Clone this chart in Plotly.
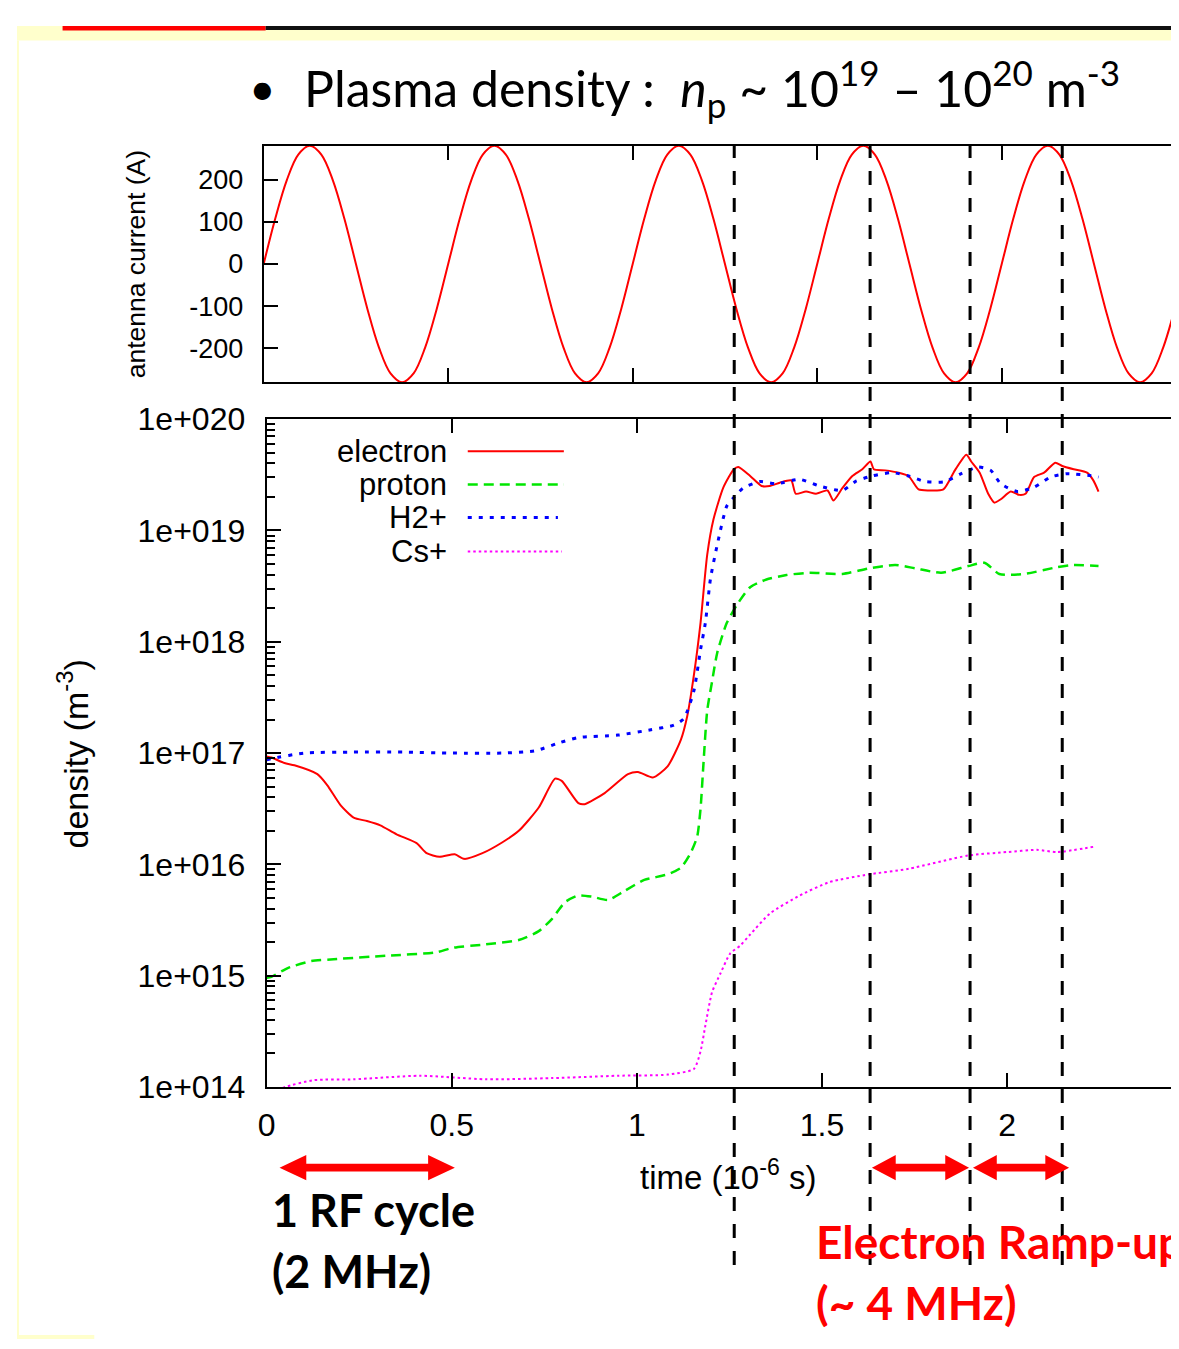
import plotly.graph_objects as go

W, H = 1179, 1349

# ---------------- data ----------------
t_current = [0.0, 0.03125, 0.0625, 0.09375, 0.125, 0.15625, 0.1875, 0.21875, 0.25, 0.28125,
             0.3125, 0.34375, 0.375, 0.40625, 0.4375, 0.46875, 0.5, 0.53125, 0.5625, 0.59375,
             0.625, 0.65625, 0.6875, 0.71875, 0.75, 0.78125, 0.8125, 0.84375, 0.875, 0.90625,
             0.9375, 0.96875, 1.0, 1.03125, 1.0625, 1.09375, 1.125, 1.15625, 1.1875, 1.21875,
             1.25, 1.28125, 1.3125, 1.34375, 1.375, 1.40625, 1.4375, 1.46875, 1.5, 1.53125,
             1.5625, 1.59375, 1.625, 1.65625, 1.6875, 1.71875, 1.75, 1.78125, 1.8125, 1.84375,
             1.875, 1.90625, 1.9375, 1.96875, 2.0, 2.03125, 2.0625, 2.09375, 2.125, 2.15625,
             2.1875, 2.21875, 2.25, 2.28125, 2.3125, 2.34375, 2.375, 2.40625, 2.4375, 2.46875, 2.5]
current = [0, 107, 198, 259, 280, 259, 198, 107, 0, -107,
           -198, -259, -280, -259, -198, -107, 0, 107, 198, 259,
           280, 259, 198, 107, 0, -107, -198, -259, -280, -259,
           -198, -107, 0, 107, 198, 259, 280, 259, 198, 107,
           0, -107, -198, -259, -280, -259, -198, -107, 0, 107,
           198, 259, 280, 259, 198, 107, 0, -107, -198, -259,
           -280, -259, -198, -107, 0, 107, 198, 259, 280, 259,
           198, 107, 0, -107, -198, -259, -280, -259, -198, -107, 0]

t_electron = [0.000, 0.013, 0.048, 0.075, 0.137, 0.164, 0.200, 0.235, 0.271, 0.307,
              0.351, 0.405, 0.432, 0.467, 0.508, 0.534, 0.583, 0.637, 0.681, 0.735,
              0.779, 0.797, 0.842, 0.859, 0.913, 0.976, 1.003, 1.043, 1.083, 1.119,
              1.136, 1.154, 1.172, 1.190, 1.207, 1.234, 1.262, 1.274, 1.306, 1.337,
              1.359, 1.386, 1.417, 1.429, 1.457, 1.484, 1.515, 1.531, 1.555, 1.582,
              1.609, 1.631, 1.640, 1.671, 1.707, 1.734, 1.761, 1.787, 1.828, 1.859,
              1.890, 1.903, 1.926, 1.949, 1.966, 1.983, 2.010, 2.033, 2.050, 2.073,
              2.100, 2.130, 2.149, 2.180, 2.216, 2.233, 2.247]
electron = [9.33e16, 9.12e16, 8.13e16, 7.76e16, 6.46e16, 5.13e16, 3.39e16, 2.63e16, 2.45e16, 2.24e16,
            1.86e16, 1.55e16, 1.26e16, 1.17e16, 1.23e16, 1.12e16, 1.26e16, 1.58e16, 2.00e16, 3.24e16,
            5.89e16, 5.62e16, 3.55e16, 3.47e16, 4.37e16, 6.46e16, 6.76e16, 6.03e16, 7.59e16, 1.32e17,
            2.14e17, 5.01e17, 1.48e18, 6.03e18, 1.26e19, 2.45e19, 3.55e19, 3.72e19, 3.09e19, 2.51e19,
            2.51e19, 2.69e19, 2.82e19, 2.14e19, 2.24e19, 2.14e19, 2.29e19, 1.86e19, 2.40e19, 3.09e19,
            3.55e19, 4.17e19, 3.55e19, 3.47e19, 3.31e19, 3.09e19, 2.34e19, 2.29e19, 2.34e19, 3.47e19,
            4.79e19, 4.17e19, 3.31e19, 2.14e19, 1.78e19, 1.91e19, 2.24e19, 2.09e19, 2.14e19, 3.02e19,
            3.31e19, 4.07e19, 3.80e19, 3.55e19, 3.31e19, 2.82e19, 2.24e19]

t_proton = [0.000, 0.013, 0.057, 0.120, 0.190, 0.324, 0.458, 0.503, 0.592, 0.681,
            0.735, 0.771, 0.806, 0.842, 0.878, 0.922, 0.966, 1.020, 1.083, 1.119,
            1.145, 1.163, 1.172, 1.180, 1.190, 1.203, 1.217, 1.243, 1.270, 1.306,
            1.350, 1.404, 1.466, 1.555, 1.627, 1.698, 1.752, 1.822, 1.895, 1.939,
            1.979, 2.046, 2.135, 2.180, 2.247]
proton = [9.55e14, 9.77e14, 1.17e15, 1.35e15, 1.41e15, 1.51e15, 1.62e15, 1.78e15, 1.91e15, 2.09e15,
          2.51e15, 3.24e15, 4.57e15, 5.25e15, 5.13e15, 4.79e15, 5.75e15, 7.24e15, 8.13e15, 9.33e15,
          1.26e16, 1.78e16, 3.16e16, 8.13e16, 2.40e17, 4.37e17, 7.94e17, 1.48e18, 2.14e18, 3.09e18,
          3.63e18, 3.98e18, 4.17e18, 4.07e18, 4.57e18, 4.90e18, 4.57e18, 4.17e18, 4.79e18, 5.13e18,
          4.07e18, 4.07e18, 4.68e18, 4.90e18, 4.79e18]

t_h2 = [0.000, 0.013, 0.102, 0.235, 0.369, 0.503, 0.637, 0.726, 0.788, 0.842,
        0.949, 1.038, 1.100, 1.127, 1.154, 1.172, 1.185, 1.199, 1.217, 1.243,
        1.260, 1.287, 1.333, 1.377, 1.440, 1.493, 1.555, 1.590, 1.635, 1.689,
        1.734, 1.779, 1.832, 1.876, 1.921, 1.956, 1.983, 2.028, 2.073, 2.117,
        2.162, 2.233, 2.247]
h2 = [8.71e16, 8.91e16, 1.00e17, 1.02e17, 1.02e17, 1.00e17, 1.00e17, 1.05e17, 1.23e17, 1.38e17,
      1.45e17, 1.62e17, 1.78e17, 2.04e17, 3.63e17, 8.51e17, 1.48e18, 3.72e18, 7.41e18, 1.66e19,
      1.95e19, 2.40e19, 2.75e19, 2.63e19, 2.88e19, 2.51e19, 2.29e19, 2.75e19, 3.09e19, 3.31e19,
      3.09e19, 2.75e19, 2.75e19, 3.24e19, 3.72e19, 3.47e19, 2.63e19, 2.24e19, 2.45e19, 3.02e19,
      3.24e19, 3.09e19, 3.02e19]

t_cs = [0.030, 0.050, 0.128, 0.235, 0.414, 0.592, 0.771, 0.949, 1.083, 1.154,
        1.172, 1.185, 1.203, 1.226, 1.252, 1.279, 1.306, 1.360, 1.440, 1.520,
        1.627, 1.734, 1.895, 2.000, 2.080, 2.135, 2.240]
cs = [9.33e13, 1.00e14, 1.15e14, 1.17e14, 1.26e14, 1.17e14, 1.20e14, 1.26e14, 1.29e14, 1.45e14,
      2.09e14, 3.55e14, 7.08e14, 1.05e15, 1.58e15, 1.86e15, 2.34e15, 3.63e15, 5.25e15, 6.92e15,
      8.13e15, 9.12e15, 1.20e16, 1.29e16, 1.35e16, 1.29e16, 1.45e16]

marker_times = [1.263, 1.630, 1.900, 2.149]

current_ticks = [-200, -100, 0, 100, 200]
current_ticktext = ["-200", "-100", "0", "100", "200"]
density_ticks = [1e14, 1e15, 1e16, 1e17, 1e18, 1e19, 1e20]
density_ticktext = ["1e+014", "1e+015", "1e+016", "1e+017", "1e+018", "1e+019", "1e+020"]
time_ticks = [0, 0.5, 1, 1.5, 2, 2.5]

series_names = ["electron", "proton", "H2+", "Cs+"]

# ---------------- style ----------------
PLOT_FONT = "Liberation Sans, Arial, Helvetica, sans-serif"
SLIDE_FONT = "Lato, Open Sans, sans-serif"
RED = "#ff0000"
GREEN = "#00e600"
BLUE = "#0000ff"
MAGENTA = "#ff00ff"

styles = {
    "electron": dict(color=RED, width=2, dash="solid"),
    "proton": dict(color=GREEN, width=2.5, dash="10px,6px"),
    "H2+": dict(color=BLUE, width=3, dash="4px,7px"),
    "Cs+": dict(color=MAGENTA, width=2, dash="2.5px,3px"),
}


def px(x):
    return x / W


def py(y):
    return 1 - y / H


fig = go.Figure()

fig.add_trace(go.Scatter(x=t_current, y=current, mode="lines", line=dict(color=RED, width=2),
                         line_shape="spline", xaxis="x", yaxis="y", showlegend=False))

series = [(t_electron, electron), (t_proton, proton), (t_h2, h2), (t_cs, cs)]
for name, (tt, vv) in zip(series_names, series):
    fig.add_trace(go.Scatter(x=tt, y=vv, mode="lines", name=name, line=styles[name],
                             line_shape="spline", line_smoothing=0.6,
                             xaxis="x2", yaxis="y2", showlegend=False))

axis_common = dict(showline=True, linecolor="black", linewidth=2, mirror="ticks",
                   ticks="inside", ticklen=14, tickwidth=2, tickcolor="black",
                   showgrid=False, zeroline=False,
                   tickfont=dict(family=PLOT_FONT, size=27, color="black"))

top_x_end = (W - 249) / 372.5
bot_x_end = (W - 252) / 373.7

minor_vals = [float(k) * 10.0 ** d for d in range(14, 20) for k in range(2, 10)]

fig.update_layout(
    width=W, height=H, autosize=False,
    margin=dict(l=0, r=0, t=0, b=0),
    paper_bgcolor="white", plot_bgcolor="white",
    xaxis=dict(axis_common, domain=[px(249), 1], range=[0, top_x_end], anchor="y",
               tickvals=time_ticks, showticklabels=False),
    yaxis=dict(axis_common, domain=[py(366), py(123)], range=[-280, 280], anchor="x",
               tickvals=current_ticks, ticktext=current_ticktext, ticklabelstandoff=13),
    xaxis2=dict(axis_common, domain=[px(252), 1], range=[0, bot_x_end], anchor="y2",
                tickvals=time_ticks, ticklabelstandoff=9,
                tickfont=dict(family=PLOT_FONT, size=32, color="black")),
    yaxis2=dict(axis_common, domain=[py(1090), py(404)], type="log", range=[14, 20], anchor="x2",
                tickvals=density_ticks, ticktext=density_ticktext, ticklabelstandoff=13,
                tickfont=dict(family=PLOT_FONT, size=32, color="black"),
                minor=dict(ticks="inside", ticklen=8, tickwidth=1.5, tickcolor="black",
                           tickvals=minor_vals)),
)

shapes = []
# slide decoration
shapes.append(dict(type="rect", xref="paper", yref="paper", x0=0, x1=1, y0=py(15), y1=1,
                   fillcolor="#ffffcc", line=dict(width=0), layer="below"))
shapes.append(dict(type="rect", xref="paper", yref="paper", x0=0, x1=px(2), y0=0, y1=py(15),
                   fillcolor="#ffffcc", line=dict(width=0), layer="below"))
shapes.append(dict(type="rect", xref="paper", yref="paper", x0=0, x1=px(78), y0=0, y1=py(1345),
                   fillcolor="#ffffcc", line=dict(width=0), layer="below"))
shapes.append(dict(type="rect", xref="paper", yref="paper", x0=px(46), x1=px(251), y0=py(4.5), y1=1,
                   fillcolor=RED, line=dict(width=0), layer="above"))
shapes.append(dict(type="rect", xref="paper", yref="paper", x0=px(251), x1=1, y0=py(4), y1=1,
                   fillcolor="#111111", line=dict(width=0), layer="above"))

# vertical dashed markers
for tm in marker_times:
    shapes.append(dict(type="line", xref="x2", yref="paper", x0=tm, x1=tm,
                       y0=py(1273), y1=py(114),
                       line=dict(color="black", width=3, dash="14px,13px")))

# legend sample lines (gnuplot style: text then sample)
legend_rows = [437, 471, 505, 540]
legend_ends = [552, 552, 546, 550]
for name, yr, xe in zip(series_names, legend_rows, legend_ends):
    st = styles[name]
    shapes.append(dict(type="line", xref="paper", yref="paper", x0=px(455), x1=px(xe),
                       y0=py(yr), y1=py(yr), line=dict(color=st["color"], width=st["width"], dash=st["dash"])))


def double_arrow(xa, xb, yc, hl=27, hh=13, st=4):
    pts = [(xa, yc), (xa + hl, yc - hh), (xa + hl, yc - st), (xb - hl, yc - st), (xb - hl, yc - hh),
           (xb, yc), (xb - hl, yc + hh), (xb - hl, yc + st), (xa + hl, yc + st), (xa + hl, yc + hh)]
    path = "M " + " L ".join(f"{px(x):.5f},{py(y):.5f}" for x, y in pts) + " Z"
    return dict(type="path", xref="paper", yref="paper", path=path,
                fillcolor=RED, line=dict(color=RED, width=0))


shapes.append(double_arrow(265, 442, 1173))
shapes.append(double_arrow(863, 961, 1173, hl=24))
shapes.append(double_arrow(965, 1062, 1173, hl=24))

fig.update_layout(shapes=shapes)

ann = []
# legend texts
for name, yr in zip(series_names, legend_rows):
    ann.append(dict(xref="paper", yref="paper", x=px(436), y=py(yr), text=name, showarrow=False,
                    xanchor="right", yanchor="middle",
                    font=dict(family=PLOT_FONT, size=31, color="black")))
# axis titles
ann.append(dict(xref="paper", yref="paper", x=px(121), y=py(245), text="antenna current (A)",
                showarrow=False, textangle=-90, xanchor="center", yanchor="middle",
                font=dict(family=PLOT_FONT, size=26.5, color="black")))
ann.append(dict(xref="paper", yref="paper", x=px(56), y=py(748), text="density (m<sup>-3</sup>)",
                showarrow=False, textangle=-90, xanchor="center", yanchor="middle",
                font=dict(family=PLOT_FONT, size=34, color="black")))
ann.append(dict(xref="paper", yref="paper", x=px(718), y=py(1181), text="time (10<sup>-6</sup> s)",
                showarrow=False, xanchor="center", yanchor="middle",
                font=dict(family=PLOT_FONT, size=33, color="black")))
# partially visible 2.5 tick label at right edge
ann.append(dict(xref="paper", yref="paper", x=px(1192), y=py(1127), text="2.5",
                showarrow=False, xanchor="center", yanchor="middle",
                font=dict(family=PLOT_FONT, size=32, color="black")))
# slide title
ann.append(dict(xref="paper", yref="paper", x=px(248), y=py(63), text="•",
                showarrow=False, xanchor="center", yanchor="middle",
                font=dict(family=SLIDE_FONT, size=46, color="black")))
ann.append(dict(xref="paper", yref="paper", x=px(288), y=py(64),
                text="Plasma density :  <i>n</i><sub>p</sub> ~ 10<sup>19</sup> – 10<sup>20</sup> m<sup>-3</sup>",
                showarrow=False, xanchor="left", yanchor="middle",
                font=dict(family=SLIDE_FONT, size=50, color="black")))
# slide annotations
ann.append(dict(xref="paper", yref="paper", x=px(255), y=py(1216), text="<b>1 RF cycle</b>",
                showarrow=False, xanchor="left", yanchor="middle",
                font=dict(family=SLIDE_FONT, size=45, color="black")))
ann.append(dict(xref="paper", yref="paper", x=px(255), y=py(1279), text="<b>(2 MHz)</b>",
                showarrow=False, xanchor="left", yanchor="middle",
                font=dict(family=SLIDE_FONT, size=45, color="black")))
ann.append(dict(xref="paper", yref="paper", x=px(805), y=py(1249), text="<b>Electron Ramp-up</b>",
                showarrow=False, xanchor="left", yanchor="middle",
                font=dict(family=SLIDE_FONT, size=46, color=RED)))
ann.append(dict(xref="paper", yref="paper", x=px(805), y=py(1311), text="<b>(~ 4 MHz)</b>",
                showarrow=False, xanchor="left", yanchor="middle",
                font=dict(family=SLIDE_FONT, size=46, color=RED)))

fig.update_layout(annotations=ann)

fig.write_html("out.html")
